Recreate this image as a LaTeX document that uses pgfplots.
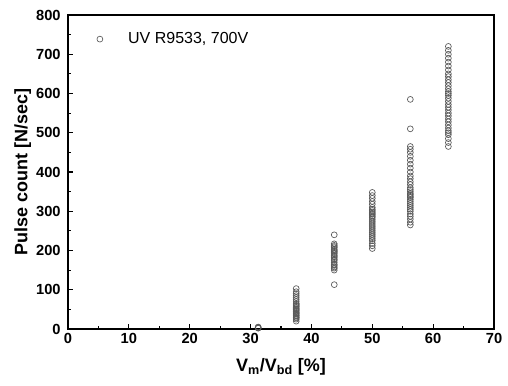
\documentclass[border=0pt]{standalone}
\usepackage{pgfplots}
\pgfplotsset{compat=1.18}
\usepackage{fontspec}
\setmainfont{Liberation Sans}
\begin{document}
\begin{tikzpicture}
\begin{axis}[
  name=ax,
  scale only axis,
  width=319.5pt, height=235.5pt,
  xmin=0, xmax=70, ymin=0, ymax=800,
  xtick={0,10,...,70}, ytick={0,100,...,800},
  minor x tick num=1, minor y tick num=1,
  tick align=inside,
  major tick length=4pt, minor tick length=2.5pt,
  xtick pos=bottom, ytick pos=left,
  axis line style={line width=0.9pt},
  every tick/.style={line width=0.8pt,black},
  /pgf/number format/assume math mode=true,
  ticklabel style={font=\bfseries\fontsize{11}{13}\selectfont},
  yticklabel style={xshift=-2pt},
  xlabel={V\textsubscript{m}/V\textsubscript{bd} [\%]},
  ylabel={Pulse count [N/sec]},
  label style={font=\bfseries\fontsize{13.5}{16}\selectfont},
  xlabel style={yshift=-4pt},
  ylabel style={yshift=-3pt},
  legend style={draw=none, fill=none, at={(0.058,0.962)}, anchor=north west, font=\fontsize{12}{14}\selectfont},
  legend cell align=left,
]
\addplot[only marks, mark=o, mark size=2.2pt, gray!70!black, line width=0.5pt] coordinates {
(31.25,2) (31.25,3) (31.25,4) (31.25,5)
(37.5,20) (37.5,25) (37.5,28) (37.5,30) (37.5,33) (37.5,35) (37.5,38) (37.5,40) (37.5,42) (37.5,45) (37.5,48) (37.5,50) (37.5,52) (37.5,55) (37.5,58) (37.5,60) (37.5,63) (37.5,65) (37.5,70) (37.5,75) (37.5,80) (37.5,85) (37.5,90) (37.5,95) (37.5,103)
(43.75,113) (43.75,150) (43.75,155) (43.75,158) (43.75,162) (43.75,165) (43.75,170) (43.75,175) (43.75,178) (43.75,182) (43.75,185) (43.75,188) (43.75,192) (43.75,195) (43.75,198) (43.75,200) (43.75,203) (43.75,207) (43.75,210) (43.75,213) (43.75,217) (43.75,240)
(50,205) (50,212) (50,218) (50,225) (50,230) (50,235) (50,240) (50,245) (50,250) (50,255) (50,260) (50,265) (50,270) (50,275) (50,280) (50,285) (50,288) (50,292) (50,295) (50,298) (50,302) (50,305) (50,310) (50,318) (50,325) (50,333) (50,340) (50,348)
(56.25,265) (56.25,272) (56.25,280) (56.25,287) (56.25,293) (56.25,300) (56.25,305) (56.25,310) (56.25,315) (56.25,320) (56.25,325) (56.25,330) (56.25,335) (56.25,338) (56.25,342) (56.25,345) (56.25,350) (56.25,355) (56.25,360) (56.25,368) (56.25,375) (56.25,383) (56.25,390) (56.25,400) (56.25,410) (56.25,420) (56.25,430) (56.25,440) (56.25,450) (56.25,458) (56.25,465) (56.25,510) (56.25,585)
(62.5,465) (62.5,475) (62.5,485) (62.5,495) (62.5,500) (62.5,505) (62.5,512) (62.5,520) (62.5,528) (62.5,535) (62.5,543) (62.5,550) (62.5,558) (62.5,565) (62.5,572) (62.5,580) (62.5,588) (62.5,595) (62.5,600) (62.5,605) (62.5,612) (62.5,620) (62.5,628) (62.5,635) (62.5,643) (62.5,650) (62.5,660) (62.5,670) (62.5,680) (62.5,690) (62.5,700) (62.5,710) (62.5,720)
};
\addlegendentry{\hspace{17pt}UV R9533, 700V}
\end{axis}
\pgfresetboundingbox
\path ([xshift=-51pt,yshift=-42pt]ax.south west) rectangle ([xshift=10.5pt,yshift=11.25pt]ax.north east);
\end{tikzpicture}
\end{document}
